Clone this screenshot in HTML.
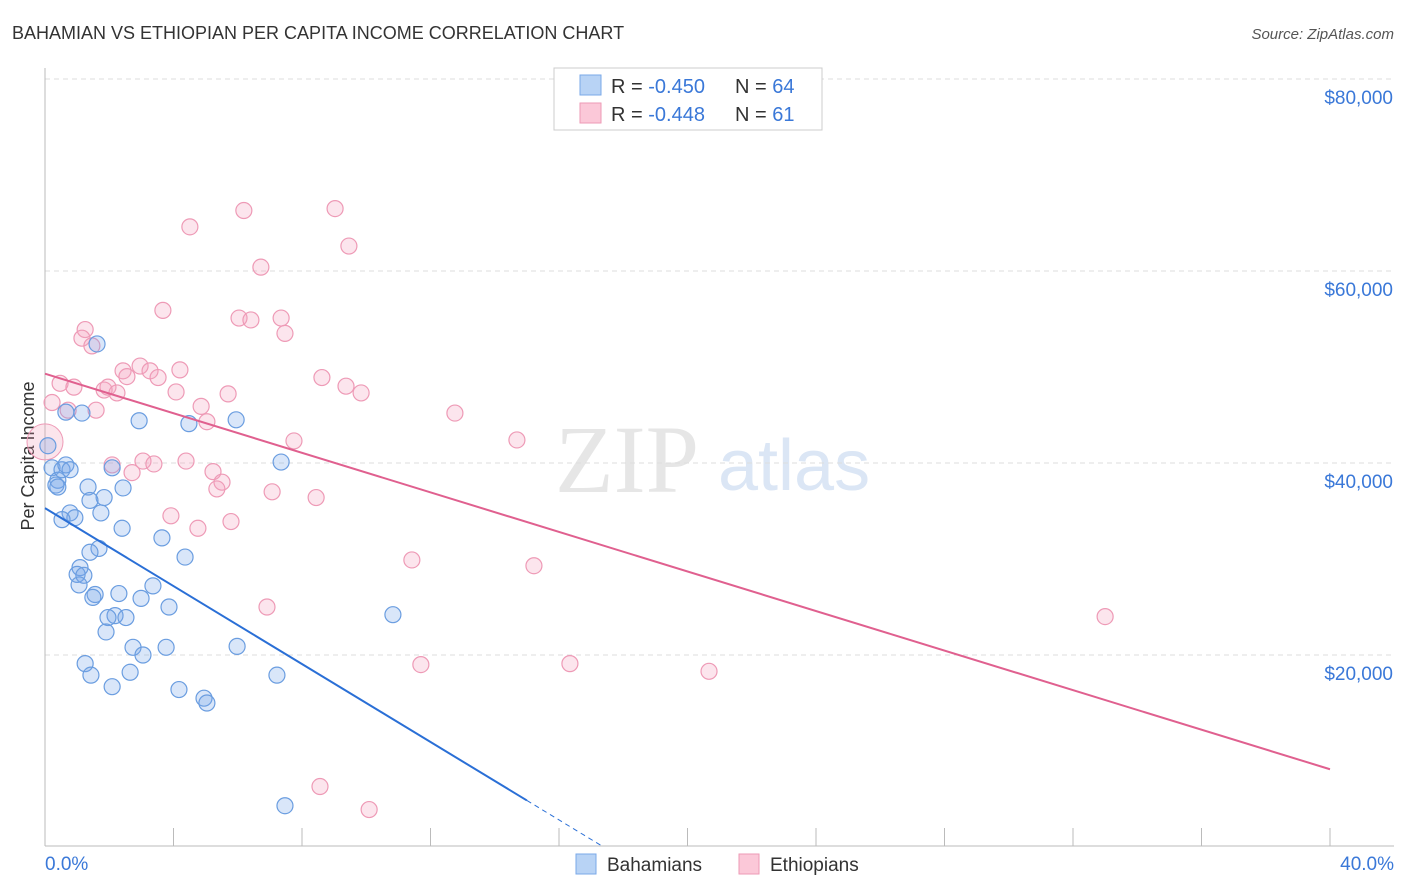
<!DOCTYPE html>
<html><head><meta charset="utf-8"><style>
body{margin:0;background:#fff;font-family:"Liberation Sans",sans-serif;}
#wrap{position:relative;width:1406px;height:892px;overflow:hidden;}
</style></head><body>
<div id="wrap">
<svg id="svg" width="1406" height="892" xmlns="http://www.w3.org/2000/svg">
<text x="12" y="39" font-size="18" fill="#333">BAHAMIAN VS ETHIOPIAN PER CAPITA INCOME CORRELATION CHART</text>
<text x="1394" y="39" font-size="15" fill="#555" font-style="italic" text-anchor="end">Source: ZipAtlas.com</text>
<text x="34" y="456" font-size="18" fill="#333" text-anchor="middle" transform="rotate(-90 34 456)">Per Capita Income</text>
<text x="555" y="492" font-size="96" fill="#e6e6e6" font-family="Liberation Serif,serif">ZIP</text>
<text x="718" y="490" font-size="72" fill="#dbe6f5">atlas</text>
<g id="grid"></g><g id="marks"></g>
<g>
<rect x="554" y="68" width="268" height="62" fill="#fff" stroke="#ccc"/>
<rect x="580" y="75" width="21" height="20" fill="#b8d3f5" stroke="#7aa8e8"/>
<rect x="580" y="103" width="21" height="20" fill="#fbc8d8" stroke="#ee9ab6"/>
<text x="611" y="93" font-size="20" fill="#333">R = <tspan fill="#3a78d8">-0.450</tspan></text>
<text x="735" y="93" font-size="20" fill="#333">N = <tspan fill="#3a78d8">64</tspan></text>
<text x="611" y="121" font-size="20" fill="#333">R = <tspan fill="#3a78d8">-0.448</tspan></text>
<text x="735" y="121" font-size="20" fill="#333">N = <tspan fill="#3a78d8"> 61</tspan></text>
</g>
<g>
<rect x="576" y="854" width="20" height="20" fill="#b8d3f5" stroke="#7aa8e8"/>
<text x="607" y="871" font-size="19" fill="#333">Bahamians</text>
<rect x="739" y="854" width="20" height="20" fill="#fbc8d8" stroke="#ee9ab6"/>
<text x="770" y="871" font-size="19" fill="#333">Ethiopians</text>
</g>
</svg>
</div>
<script>
const xTicks=[0,4,8,12,16,20,24,28,32,36,40];
const yTicks=[20000,40000,60000,80000];
const yTickLabels=["$20,000","$40,000","$60,000","$80,000"];
const bahX=[1.62,0.09,0.22,0.40,0.53,0.65,0.78,0.34,0.40,0.65,1.15,2.09,2.93,4.48,5.95,7.35,1.34,1.84,1.40,2.43,1.74,0.78,0.93,0.53,2.40,3.64,1.68,1.40,4.36,1.09,1.00,1.21,1.06,3.36,1.56,1.49,2.30,2.99,3.86,2.18,1.96,2.52,1.90,10.83,2.74,3.05,3.77,5.98,1.25,1.43,2.65,2.09,4.17,4.95,5.04,7.22,7.47];
const bahY=[52.4,41.8,39.5,38.2,39.3,39.8,39.3,37.7,37.5,45.3,45.2,39.5,44.4,44.1,44.5,40.1,37.5,36.4,36.1,37.4,34.8,34.8,34.3,34.1,33.2,32.2,31.1,30.7,30.2,29.1,28.4,28.3,27.3,27.2,26.3,26.0,26.4,25.9,25.0,24.1,23.9,23.9,22.4,24.2,20.8,20.0,20.8,20.9,19.1,17.9,18.2,16.7,16.4,15.5,15.0,17.9,4.3];
const ethX=[0.22,0.47,0.90,1.25,1.15,1.46,0.72,1.59,1.84,1.96,2.24,2.43,2.55,2.96,3.27,3.52,4.20,4.08,3.67,4.51,6.19,9.03,9.46,6.72,6.04,6.41,7.35,7.47,4.86,5.04,5.70,8.62,9.37,9.84,12.76,14.69,7.75,2.09,2.71,3.05,3.39,4.39,5.23,5.51,5.35,3.92,4.76,5.79,7.07,8.44,11.42,15.22,6.91,11.70,16.34,20.67,33.0,8.56,10.09];
const ethY=[46.3,48.3,47.9,53.9,53.0,52.2,45.5,45.5,47.6,47.9,47.3,49.6,49.0,50.1,49.6,48.9,49.7,47.4,55.9,64.6,66.3,66.5,62.6,60.4,55.1,54.9,55.1,53.5,45.9,44.3,47.2,48.9,48.0,47.3,45.2,42.4,42.3,39.8,39.0,40.2,39.9,40.2,39.1,38.0,37.3,34.5,33.2,33.9,37.0,36.4,29.9,29.3,25.0,19.0,19.1,18.3,24.0,6.3,3.9];
const bahLine=[35.3,-2.03];
const ethLine=[49.3,-1.03];
const NS="http://www.w3.org/2000/svg";
const X=v=>45+v*1285/40, Y=k=>847-k*1000*192/20000;
function mk(t,a,p){const e=document.createElementNS(NS,t);for(const k in a)e.setAttribute(k,a[k]);p.appendChild(e);return e;}
const grid=document.getElementById('grid'),marks=document.getElementById('marks');
yTicks.forEach((v,i)=>{
const l=mk('line',{x1:45,x2:1394,y1:Y(v/1000),y2:Y(v/1000),stroke:'#ddd','stroke-dasharray':'5,4'},grid);


const t=mk('text',{x:1393,y:Y(v/1000)+25,'font-size':19,fill:'#3a78d8','text-anchor':'end'},grid);t.textContent=yTickLabels[i];


});
const ya=mk('line',{x1:45,x2:45,y1:68,y2:846,stroke:'#bbb'},grid);


const xa=mk('line',{x1:45,x2:1394,y1:846,y2:846,stroke:'#bbb'},grid);


xTicks.forEach(v=>{const l=mk('line',{x1:X(v),x2:X(v),y1:828,y2:846,stroke:'#bbb'},grid);

});
[[0,'0.0%','start',45],[40,'40.0%','end',1394]].forEach(d=>{const t=mk('text',{x:d[3],y:870,'font-size':19,fill:'#3a78d8','text-anchor':d[2]},grid);t.textContent=d[1];

});
const big=mk('circle',{cx:X(0),cy:Y(42.2),r:18,fill:'rgba(240,150,180,0.25)',stroke:'#ee9ab6'},marks);


ethX.forEach((x,i)=>{const c=mk('circle',{cx:X(x),cy:Y(ethY[i]),r:8,fill:'rgba(245,160,190,0.28)',stroke:'#ee9ab6','stroke-width':1.2},marks);

});
bahX.forEach((x,i)=>{const c=mk('circle',{cx:X(x),cy:Y(bahY[i]),r:8,fill:'rgba(120,165,235,0.28)',stroke:'#6a9de0','stroke-width':1.2},marks);

});
const bEnd=15, bZero=-bahLine[0]/bahLine[1];
const bl=mk('line',{x1:X(0),y1:Y(bahLine[0]),x2:X(bEnd),y2:Y(bahLine[0]+bahLine[1]*bEnd),stroke:'#2a6fd6','stroke-width':2},marks);


const bd=mk('line',{x1:X(bEnd),y1:Y(bahLine[0]+bahLine[1]*bEnd),x2:X(bZero),y2:Y(0),stroke:'#2a6fd6','stroke-width':1,'stroke-dasharray':'5,4'},marks);


const el=mk('line',{x1:X(0),y1:Y(ethLine[0]),x2:X(40),y2:Y(ethLine[0]+ethLine[1]*40),stroke:'#e0608f','stroke-width':2},marks);


</script>
</body></html>
